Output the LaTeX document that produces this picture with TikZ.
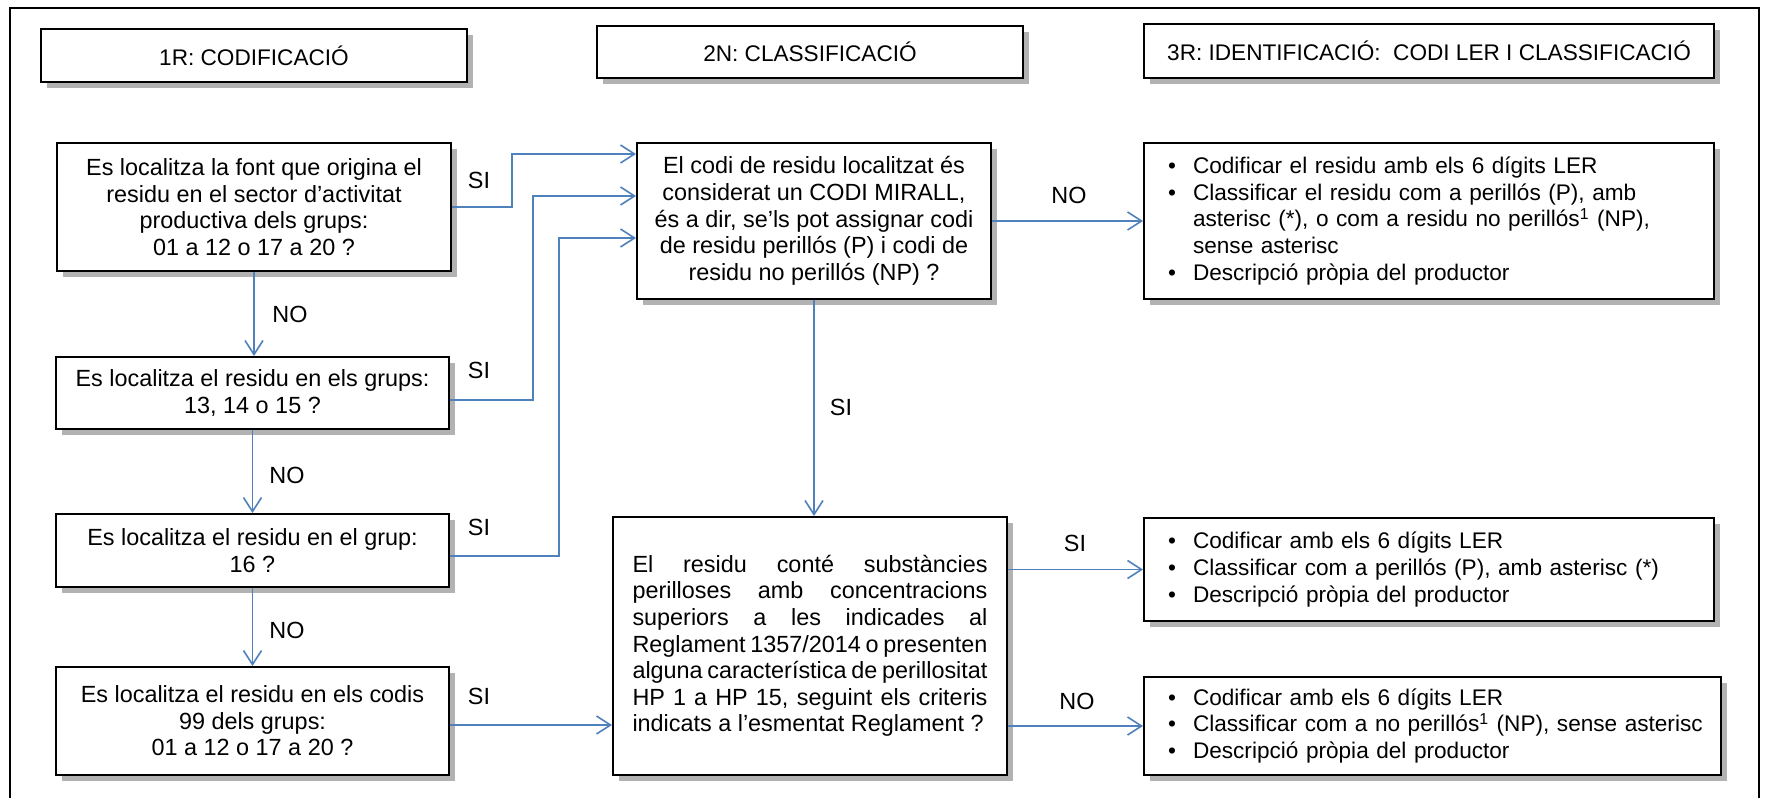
\documentclass[tikz,border=0pt]{standalone}
\usepackage{fontspec}
\setmainfont{Liberation Sans}
\usetikzlibrary{arrows.meta,shadows,calc}
\definecolor{lineblue}{RGB}{79,129,189}
\newcommand\myBody{\fontsize{11.7pt}{13.3pt}\selectfont}
\newcommand\myRight{\fontsize{11.3pt}{13.3pt}\selectfont}
\newcommand\myHead{\fontsize{11.3pt}{13pt}\selectfont}
\newcommand\bul{\makebox[12.5pt][l]{\textbullet}}
\newcommand\jl[1]{\makebox[177.5pt][s]{#1}}
\tikzset{
  box/.style={draw=black, line width=1pt, fill=white, inner sep=0pt, align=center, font=\myBody,
    drop shadow={shadow xshift=2.8pt, shadow yshift=-2.8pt, fill=black, opacity=0.3}},
  hbox/.style={box, font=\myHead},
  lbox/.style={box, align=left, inner xsep=12pt, font=\myRight},
  arr/.style={draw=lineblue, line width=0.8pt, -{Straight Barb[length=7pt,width=9pt]}},
  lbl/.style={font=\myBody, inner sep=0pt},
}
\begin{document}
\begin{tikzpicture}[x=0.5pt,y=-0.5pt]
\useasboundingbox (0,0) rectangle (1765,797);
\fill[white] (0,0) rectangle (1765,797);
\draw[line width=1.2pt] (10,800) -- (10,8) -- (1759,8) -- (1759,800);

% headers
\node[hbox, minimum width=213pt, minimum height=26.5pt] (h1) at (254,55.5) {1R: CODIFICACIÓ};
\node[hbox, minimum width=213pt, minimum height=26pt] (h2) at (810,52) {2N: CLASSIFICACIÓ};
\node[hbox, minimum width=285pt, minimum height=27pt] (h3) at (1429,51) {3R: IDENTIFICACIÓ:~ CODI LER I CLASSIFICACIÓ};

% left column
\node[box, minimum width=197pt, minimum height=64pt] (A) at (254,207)
  {Es localitza la font que origina el\\residu en el sector d’activitat\\productiva dels grups:\\01 a 12 o 17 a 20 ?};
\node[box, minimum width=196.5pt, minimum height=36pt] (B) at (252.5,393)
  {Es localitza el residu en els grups:\\13, 14 o 15 ?};
\node[box, minimum width=196.5pt, minimum height=36.5pt] (C) at (252.5,550.5)
  {Es localitza el residu en el grup:\\16 ?};
\node[box, minimum width=196.5pt, minimum height=54pt] (D) at (252.5,721)
  {Es localitza el residu en els codis\\99 dels grups:\\01 a 12 o 17 a 20 ?};

% middle column
\node[box, minimum width=177pt, minimum height=78pt] (M1) at (814,221)
  {El codi de residu localitzat és\\considerat un CODI MIRALL,\\és a dir, se’ls pot assignar codi\\de residu perillós (P) i codi de\\residu no perillós (NP) ?};
\node[box, minimum width=197pt, minimum height=129pt, align=left] (M2) at (810,646)
  {\jl{El residu conté substàncies}\\\jl{perilloses amb concentracions}\\\jl{superiors a les indicades al}\\\jl{Reglament 1357/2014 o presenten}\\\jl{alguna característica de perillositat}\\\jl{HP 1 a HP 15, seguint els criteris}\\\makebox[177.5pt][l]{indicats a l’esmentat Reglament ?}};

% right column
\node[lbox, text width=261pt, minimum height=78pt] (R1) at (1429,221)
  {\mbox{\bul Codificar el residu amb els 6 dígits LER}\\
   \mbox{\bul Classificar el residu com a perillós (P), amb}\\
   \mbox{\hspace*{12.5pt}asterisc (*), o com a residu no perillós\textsuperscript{1} (NP),}\\
   \mbox{\hspace*{12.5pt}sense asterisc}\\
   \mbox{\bul Descripció pròpia del productor}};
\node[lbox, text width=261pt, minimum height=51.5pt] (R2) at (1429,569.5)
  {\mbox{\bul Codificar amb els 6 dígits LER}\\
   \mbox{\bul Classificar com a perillós (P), amb asterisc (*)}\\
   \mbox{\bul Descripció pròpia del productor}};
\node[lbox, text width=264.5pt, minimum height=49pt] (R3) at (1432.5,726)
  {\mbox{\bul Codificar amb els 6 dígits LER}\\
   \mbox{\bul Classificar com a no perillós\textsuperscript{1} (NP), sense asterisc}\\
   \mbox{\bul Descripció pròpia del productor}};

% connectors
\draw[arr] (A.east) -- ++(60,0) |- ([yshift=33.5pt]M1.west);
\draw[arr] ([yshift=-3.5pt]B.east) -- ++(83,0) |- ([yshift=12.5pt]M1.west);
\draw[arr] ([yshift=-2.75pt]C.east) -- ++(109,0) |- ([yshift=-8.5pt]M1.west);
\draw[arr] ([yshift=-2pt]D.east) -- ([yshift=-2pt]D.east -| M2.west);
\draw[arr] (A.south) -- (A.south |- B.north);
\draw[arr] (B.south) -- (B.south |- C.north);
\draw[arr] (C.south) -- (C.south |- D.north);
\draw[arr] (M1.south) -- (M1.south |- M2.north);
\draw[arr] (M1.east) -- (R1.west);
\draw[arr] (R2.west -| M2.east) -- (R2.west);
\draw[arr] (R3.west -| M2.east) -- (R3.west);

% labels
\node[lbl] (s1) at (479,180) {SI};
\node[lbl] (s2) at (479,370) {SI};
\node[lbl] (s3) at (479,527) {SI};
\node[lbl] (s4) at (479,696) {SI};
\node[lbl] (n1) at (290,314) {NO};
\node[lbl] (n2) at (287,475) {NO};
\node[lbl] (n3) at (287,630) {NO};
\node[lbl] (s5) at (841,407) {SI};
\node[lbl] (n4) at (1069,195) {NO};
\node[lbl] (s6) at (1075,543) {SI};
\node[lbl] (n5) at (1077,701) {NO};
\end{tikzpicture}
\end{document}
